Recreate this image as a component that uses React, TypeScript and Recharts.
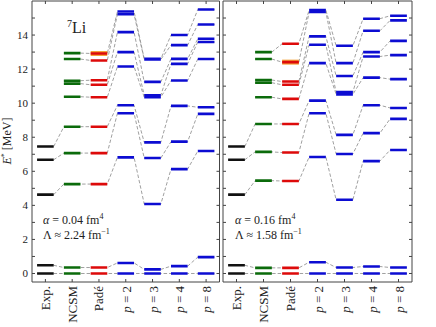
import React from "react";
import { ComposedChart, Line, XAxis, YAxis } from "recharts";

const columns = ["Exp.", "NCSM", "Padé", "p = 2", "p = 3", "p = 4", "p = 8"];
const colTicks = [0, 1, 2, 3, 4, 5, 6];
const yTicks = [0, 1, 2, 3, 4, 5, 6, 7, 8, 9, 10, 11, 12, 13, 14, 15];

// experiment (same in both panels)
const expLevels = [0, 0.48, 4.63, 6.68, 7.46];

// alpha = 0.04 fm^4
const ncsmA = [0, 0.35, 5.25, 7.07, 8.62, 10.38, 11.15, 11.32, 12.59, 12.94];
const padeA = [0, 0.35, 5.25, 7.07, 8.62, 10.35, 11.08, 11.35, 12.51, 12.92];
const padeOrangeA = [12.92];
const p2A = [0, 0.62, 6.82, 9.41, 9.88, 12.15, 13.0, 14.17, 15.22, 15.38];
const p3A = [0, 0.24, 4.08, 6.78, 7.7, 10.35, 10.47, 11.25, 12.57, 12.6];
const p4A = [0, 0.43, 6.13, 7.74, 9.84, 11.33, 12.31, 12.6, 13.41, 14.0];
const p8A = [0, 0.96, 7.19, 9.37, 9.76, 12.59, 13.59, 13.78, 14.62, 15.5];

// alpha = 0.16 fm^4
const ncsmB = [0, 0.33, 5.45, 7.14, 8.78, 10.35, 11.2, 11.36, 12.59, 13.0];
const padeB = [0, 0.33, 5.43, 7.1, 8.78, 10.25, 11.08, 11.27, 12.41, 13.49];
const padeOrangeB = [12.41];
const p2B = [0, 0.66, 6.84, 9.41, 10.15, 12.35, 13.43, 13.92, 15.35, 15.47];
const p3B = [0, 0.35, 4.33, 7.02, 8.14, 10.52, 10.65, 11.6, 12.35, 13.37];
const p4B = [0, 0.41, 6.6, 8.24, 9.88, 11.5, 12.74, 13.0, 14.25, 14.96];
const p8B = [0, 0.35, 7.25, 9.08, 9.72, 11.41, 12.82, 13.66, 14.86, 15.13];

const COLORS = ["#111111", "#0b6b0b", "#dd0a0a", "#0c0cd2", "#0c0cd2", "#0c0cd2", "#0c0cd2"];
const ORANGE = "#f4a43a";
const FRAME = "#444";
const FONT = "'Liberation Serif', 'DejaVu Serif', serif";
const serif = { fontFamily: FONT };
const HALF = 0.31;

type Pt = { x: number; y: number | null };

function segments(col: number, levels: number[]): Pt[] {
  const pts: Pt[] = [];
  levels.forEach((e) => {
    pts.push({ x: col - HALF, y: e }, { x: col + HALF, y: e }, { x: col + HALF, y: null });
  });
  return pts;
}

function stateLine(cols: number[][], i: number): Pt[] {
  const pts: Pt[] = [];
  cols.forEach((lv, j) => {
    if (lv[i] !== undefined) pts.push({ x: j - HALF, y: lv[i] }, { x: j + HALF, y: lv[i] });
  });
  return pts;
}

const BottomTick = (props: any) => {
  const { x, y, payload } = props;
  const label = columns[payload.value];
  const isP = label.startsWith("p");
  return (
    <g>
      <line x1={x} y1={y} x2={x} y2={y - 3} stroke={FRAME} strokeWidth={1} />
      <text
        transform={`translate(${x},${y + 4}) rotate(-90)`}
        textAnchor="end"
        dominantBaseline="central"
        fontSize={13}
        fill="#222"
        style={{ ...serif, whiteSpace: "pre" }}
      >
        {isP ? (
          <>
            <tspan fontStyle="italic">p</tspan>
            <tspan>{label.slice(1)}</tspan>
          </>
        ) : (
          label
        )}
      </text>
    </g>
  );
};

const TopTick = (props: any) => {
  const { x, y } = props;
  return <line x1={x} y1={y} x2={x} y2={y + 3} stroke={FRAME} strokeWidth={1} />;
};

const makeLeftTick = (showLabels: boolean) => (props: any) => {
  const { x, y, payload } = props;
  const v = payload.value;
  return (
    <g>
      <line x1={x} y1={y} x2={x + 3} y2={y} stroke={FRAME} strokeWidth={1} />
      {showLabels && v % 2 === 0 && (
        <text x={x - 4} y={y} textAnchor="end" dominantBaseline="central" fontSize={11} fill="#222" style={serif}>
          {v}
        </text>
      )}
    </g>
  );
};

const RightTick = (props: any) => {
  const { x, y } = props;
  return <line x1={x} y1={y} x2={x - 3} y2={y} stroke={FRAME} strokeWidth={1} />;
};

function Panel({ cols, orange, left, width, margin, showLabels }: any) {
  const nStates = Math.max(...cols.map((c: number[]) => c.length));
  const states = Array.from({ length: nStates }, (_, i) => i);
  return (
    <div style={{ position: "absolute", left, top: 0 }}>
      <ComposedChart width={width} height={327} margin={margin}>
        <XAxis
          xAxisId="b"
          type="number"
          dataKey="x"
          domain={[-0.5, 6.5]}
          ticks={colTicks}
          interval={0}
          height={44}
          tickSize={0}
          tickMargin={0}
          tickLine={false}
          axisLine={{ stroke: FRAME }}
          tick={BottomTick}
          allowDataOverflow
        />
        <XAxis
          xAxisId="t"
          orientation="top"
          type="number"
          dataKey="x"
          domain={[-0.5, 6.5]}
          ticks={colTicks}
          interval={0}
          height={1}
          tickSize={0}
          tickMargin={0}
          tickLine={false}
          axisLine={{ stroke: FRAME }}
          tick={TopTick}
          allowDataOverflow
        />
        <YAxis
          yAxisId="l"
          type="number"
          domain={[-0.5, 16]}
          ticks={yTicks}
          interval={0}
          width={showLabels ? 32 : 1}
          tickSize={0}
          tickMargin={0}
          tickLine={false}
          axisLine={{ stroke: FRAME }}
          tick={makeLeftTick(showLabels)}
          allowDataOverflow
        />
        <YAxis
          yAxisId="r"
          orientation="right"
          type="number"
          domain={[-0.5, 16]}
          ticks={yTicks}
          interval={0}
          width={1}
          tickSize={0}
          tickMargin={0}
          tickLine={false}
          axisLine={{ stroke: FRAME }}
          tick={RightTick}
          allowDataOverflow
        />
        {states.map((i) => (
          <Line
            key={"c" + i}
            xAxisId="b"
            yAxisId="l"
            data={stateLine(cols, i)}
            dataKey="y"
            stroke="#959595"
            strokeWidth={0.9}
            strokeDasharray="3.5 2"
            dot={false}
            activeDot={false}
            isAnimationActive={false}
          />
        ))}
        <Line
          xAxisId="b"
          yAxisId="l"
          data={segments(2, orange)}
          dataKey="y"
          stroke={ORANGE}
          strokeWidth={5}
          dot={false}
          activeDot={false}
          connectNulls={false}
          isAnimationActive={false}
        />
        {cols.map((lv: number[], j: number) => (
          <Line
            key={"s" + j}
            xAxisId="b"
            yAxisId="l"
            data={segments(j, lv)}
            dataKey="y"
            stroke={COLORS[j]}
            strokeWidth={2.6}
            dot={false}
            activeDot={false}
            connectNulls={false}
            isAnimationActive={false}
          />
        ))}
      </ComposedChart>
    </div>
  );
}

export default function App() {
  const colsA = [expLevels, ncsmA, padeA, p2A, p3A, p4A, p8A];
  const colsB = [expLevels, ncsmB, padeB, p2B, p3B, p4B, p8B];
  return (
    <div style={{ position: "absolute", left: 0, top: 0, width: 436, height: 327, background: "#fff" }}>
      <Panel cols={colsA} orange={padeOrangeA} left={0} width={222} margin={{ top: 0, right: 1.5, bottom: 1, left: 0 }} showLabels />
      <Panel cols={colsB} orange={padeOrangeB} left={222} width={214} margin={{ top: 0, right: 23, bottom: 1, left: 0 }} showLabels={false} />
      <svg width={436} height={327} style={{ position: "absolute", left: 0, top: 0, pointerEvents: "none", ...serif }} fill="#222">
        <text transform="translate(11,141) rotate(-90)" textAnchor="middle" fontSize={12} style={{ ...serif, whiteSpace: "pre" }}>
          <tspan fontStyle="italic">E</tspan>
          <tspan fontSize={8} dy={-4}>*</tspan>
          <tspan dy={4}> [MeV]</tspan>
        </text>
        <text x={67} y={33} fontSize={16} style={serif}>
          <tspan fontSize={10} dy={-6}>7</tspan>
          <tspan dy={6}>Li</tspan>
        </text>
        <text x={43} y={224} fontSize={12} style={{ ...serif, whiteSpace: "pre" }}>
          <tspan fontStyle="italic">α</tspan> = 0.04 fm<tspan fontSize={8} dy={-5}>4</tspan>
        </text>
        <text x={43} y={239} fontSize={12} style={{ ...serif, whiteSpace: "pre" }}>
          Λ ≈ 2.24 fm<tspan fontSize={8} dy={-5}>−1</tspan>
        </text>
        <text x={235} y={224} fontSize={12} style={{ ...serif, whiteSpace: "pre" }}>
          <tspan fontStyle="italic">α</tspan> = 0.16 fm<tspan fontSize={8} dy={-5}>4</tspan>
        </text>
        <text x={235} y={239} fontSize={12} style={{ ...serif, whiteSpace: "pre" }}>
          Λ ≈ 1.58 fm<tspan fontSize={8} dy={-5}>−1</tspan>
        </text>
      </svg>
    </div>
  );
}
